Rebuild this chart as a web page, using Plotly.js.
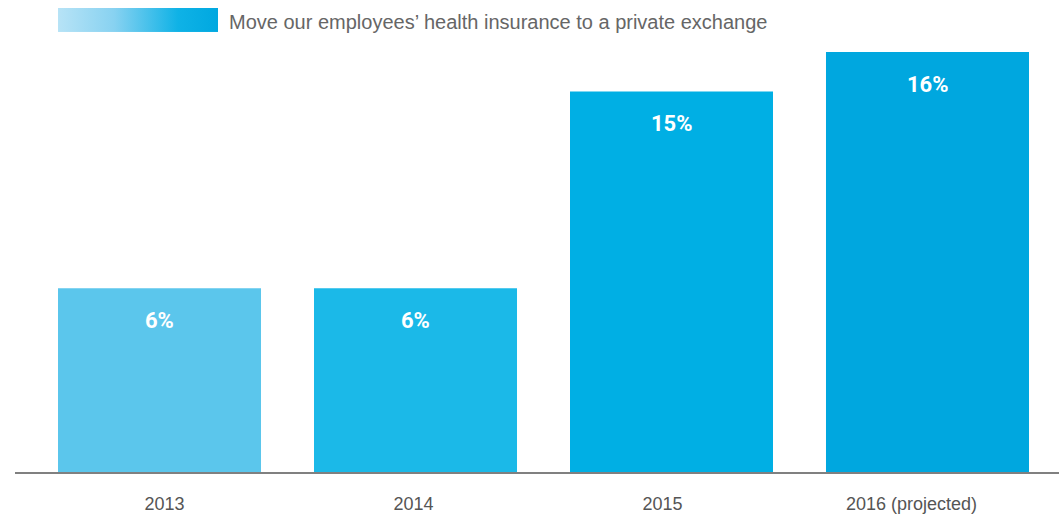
<!DOCTYPE html>
<html>
<head>
<meta charset="utf-8">
<script src="https://cdn.plot.ly/plotly-3.0.1.min.js"></script>
<style>html,body{margin:0;padding:0;background:#fff;}#chart{width:1059px;height:514px;}</style>
</head>
<body>
<div id="chart"></div>
<script>
// Data
const categories = ['2013', '2014', '2015', '2016 (projected)'];
const labelValues = [6, 6, 15, 16];            // printed percentages
const barHeights = [7.0, 7.0, 14.5, 16.0];      // bar heights as drawn in the reference
const barColors = ['#5BC6EC', '#1BB9E8', '#00AFE4', '#00A7DF'];
const seriesName = 'Move our employees\u2019 health insurance to a private exchange';

const xIdx = categories.map((c, i) => i);

const trace = {
  type: 'bar',
  x: xIdx,
  y: barHeights,
  width: 0.793,
  marker: { color: barColors, line: { width: 0 } },
  hoverinfo: 'skip',
  showlegend: false
};

// invisible helper trace so the label axis is drawn
const labelTrace = {
  type: 'scatter', mode: 'markers',
  x: xIdx, y: xIdx.map(() => 0),
  xaxis: 'x2', yaxis: 'y',
  marker: { opacity: 0 }, hoverinfo: 'skip', showlegend: false
};

const annotations = xIdx.map((x, i) => ({
  x: x, y: barHeights[i], xref: 'x', yref: 'y',
  text: '<b>' + labelValues[i] + '%</b>',
  showarrow: false, yanchor: 'middle', yshift: -32,
  font: { family: 'Roboto, Arial, sans-serif', size: 22, color: '#ffffff' }
}));

annotations.push({
  xref: 'paper', yref: 'paper', x: 0.2031, y: 1.0714,
  xanchor: 'left', yanchor: 'middle', showarrow: false,
  text: seriesName,
  font: { family: 'Liberation Sans, Arial, sans-serif', size: 20, color: '#666666' }
});

const gradSvg = '<svg xmlns="http://www.w3.org/2000/svg" width="160" height="24"><defs><linearGradient id="g" x1="0" x2="1" y1="0" y2="0"><stop offset="0" stop-color="#B7E3F6"/><stop offset="0.35" stop-color="#88D2F1"/><stop offset="0.75" stop-color="#0FB2E6"/><stop offset="1" stop-color="#00A8E0"/></linearGradient></defs><rect width="160" height="24" fill="url(#g)"/></svg>';

const layout = {
  width: 1059, height: 514,
  margin: { l: 15, r: 0, t: 52, b: 42 },
  paper_bgcolor: '#ffffff', plot_bgcolor: '#ffffff',
  showlegend: false,
  xaxis: {
    type: 'linear',
    range: [-0.5645, 3.5137],
    showticklabels: false,
    showgrid: false, zeroline: false,
    showline: true, linecolor: '#808080', linewidth: 2,
    ticks: '', fixedrange: true
  },
  xaxis2: {
    type: 'linear', overlaying: 'x', side: 'bottom',
    range: [-0.6004, 3.5924],
    tickvals: xIdx, ticktext: categories,
    showgrid: false, zeroline: false, showline: false,
    ticks: 'outside', ticklen: 0, ticklabelstandoff: 15,
    tickfont: { family: 'Liberation Sans, Arial, sans-serif', size: 18, color: '#555555' },
    fixedrange: true
  },
  yaxis: {
    range: [0, 16], visible: false, showgrid: false, zeroline: false, fixedrange: true
  },
  annotations: annotations,
  images: [{
    source: 'data:image/svg+xml;charset=utf-8,' + encodeURIComponent(gradSvg),
    xref: 'paper', yref: 'paper', x: 0.0412, y: 1.1048,
    sizex: 0.1533, sizey: 0.0571, xanchor: 'left', yanchor: 'top',
    sizing: 'stretch', layer: 'above'
  }]
};

Plotly.newPlot('chart', [trace, labelTrace], layout, { displayModeBar: false, staticPlot: true });
</script>
</body>
</html>
